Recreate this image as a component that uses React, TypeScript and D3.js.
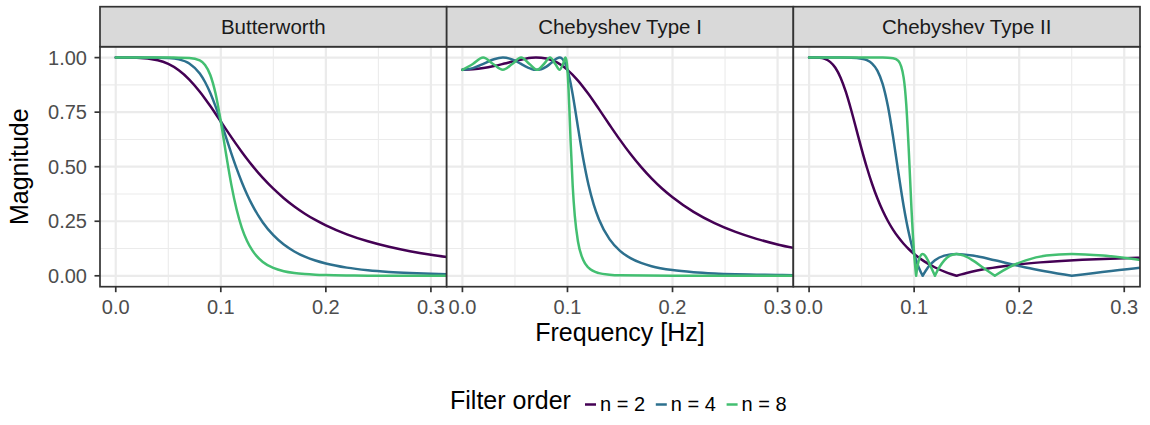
import React from "react";
import * as d3 from "d3";

// ---------------- data ----------------
const facets = ["Butterworth", "Chebyshev Type I", "Chebyshev Type II"];
const seriesLabels = ["n = 2", "n = 4", "n = 8"];
const xTicks = [0, 0.1, 0.2, 0.3];
const xMinor = [0.05, 0.15, 0.25];
const yTicks = [0, 0.25, 0.5, 0.75, 1];
const yMinor = [0.125, 0.375, 0.625, 0.875];

// Butterworth
const butterFreq = [0, 0.02, 0.04, 0.05, 0.06, 0.07, 0.08, 0.085, 0.09, 0.095, 0.1, 0.105, 0.11, 0.115, 0.12, 0.125, 0.13, 0.14, 0.15, 0.16, 0.17, 0.18, 0.19, 0.2, 0.22, 0.24, 0.26, 0.28, 0.3, 0.32];
const butterN2 = [1, 0.9992, 0.9878, 0.9708, 0.942, 0.8995, 0.8437, 0.8119, 0.778, 0.7429, 0.7071, 0.6712, 0.6357, 0.6011, 0.5676, 0.5354, 0.5049, 0.4488, 0.3991, 0.3556, 0.3176, 0.2846, 0.2559, 0.2311, 0.19, 0.158, 0.1328, 0.1126, 0.0962, 0.0827];
const butterN4 = [1, 1, 0.9997, 0.9981, 0.9921, 0.9733, 0.927, 0.8882, 0.8376, 0.7763, 0.7071, 0.634, 0.5613, 0.4923, 0.4291, 0.3729, 0.3236, 0.2444, 0.1861, 0.1432, 0.1115, 0.0878, 0.0699, 0.0564, 0.0374, 0.0256, 0.0179, 0.0128, 0.0093, 0.0069];
const butterN8 = [1, 1, 1, 1, 0.9999, 0.9984, 0.9869, 0.966, 0.9203, 0.8351, 0.7071, 0.558, 0.4178, 0.3047, 0.22, 0.1595, 0.1162, 0.0634, 0.0359, 0.0209, 0.0126, 0.0078, 0.0049, 0.0032, 0.0014, 0.0006, 0.0003, 0.0002, 0.0001, 0];

// Chebyshev Type I
const cheb1N2Freq = [0, 0.01, 0.02, 0.03, 0.04, 0.05, 0.06, 0.07, 0.08, 0.09, 0.1, 0.11, 0.12, 0.13, 0.14, 0.15, 0.16, 0.17, 0.18, 0.19, 0.2, 0.22, 0.24, 0.26, 0.28, 0.3, 0.32];
const cheb1N2 = [0.9439, 0.9461, 0.9519, 0.9611, 0.9726, 0.9847, 0.995, 1, 0.9955, 0.9777, 0.9439, 0.8947, 0.8329, 0.7637, 0.6924, 0.6229, 0.558, 0.4991, 0.4465, 0.4001, 0.3601, 0.2932, 0.2416, 0.2013, 0.1694, 0.1438, 0.123];
const cheb1N4Freq = [0, 0.01, 0.02, 0.03, 0.0385, 0.045, 0.05, 0.055, 0.06, 0.065, 0.07, 0.075, 0.08, 0.085, 0.09, 0.0925, 0.0975, 0.1, 0.1025, 0.105, 0.1075, 0.11, 0.115, 0.12, 0.125, 0.13, 0.14, 0.15, 0.16, 0.17, 0.18, 0.2, 0.22, 0.24, 0.26, 0.28, 0.3, 0.32];
const cheb1N4 = [0.9439, 0.9518, 0.9716, 0.9925, 1, 0.9953, 0.9858, 0.9732, 0.96, 0.9494, 0.944, 0.9468, 0.9585, 0.9776, 0.9964, 1, 0.9774, 0.9439, 0.894, 0.8302, 0.7571, 0.6804, 0.5362, 0.4173, 0.3266, 0.2582, 0.168, 0.1144, 0.081, 0.059, 0.0441, 0.0262, 0.0165, 0.0109, 0.0074, 0.0052, 0.0037, 0.0027];
const cheb1N8Freq = [0, 0.0099, 0.0197, 0.0292, 0.0385, 0.0474, 0.0559, 0.0638, 0.071, 0.0776, 0.0834, 0.0884, 0.0925, 0.0958, 0.0981, 0.0995, 0.1, 0.101, 0.102, 0.103, 0.105, 0.107, 0.11, 0.115, 0.12, 0.13, 0.14, 0.15, 0.2, 0.32];
const cheb1N8 = [0.9439, 0.9708, 1, 0.9708, 0.9439, 0.9708, 1, 0.9708, 0.9439, 0.9708, 1, 0.9708, 0.9439, 0.9708, 1, 0.9708, 0.9439, 0.8564, 0.7399, 0.6156, 0.4091, 0.273, 0.1572, 0.0721, 0.0372, 0.0121, 0.0051, 0.0023, 0.0001, 0];

// Chebyshev Type II
const cheb2N2Freq = [0, 0.01, 0.015, 0.02, 0.025, 0.03, 0.035, 0.04, 0.045, 0.05, 0.055, 0.06, 0.065, 0.07, 0.075, 0.08, 0.085, 0.09, 0.095, 0.1, 0.11, 0.12, 0.13, 0.135, 0.1403, 0.145, 0.15, 0.16, 0.17, 0.18, 0.2, 0.22, 0.24, 0.26, 0.28, 0.3, 0.32];
const cheb2N2 = [1, 0.9988, 0.9939, 0.9806, 0.9536, 0.908, 0.8426, 0.7611, 0.6711, 0.5808, 0.4963, 0.4207, 0.3551, 0.2989, 0.2511, 0.2106, 0.1762, 0.1468, 0.1217, 0.1, 0.0649, 0.038, 0.017, 0.0082, 0, 0.0066, 0.013, 0.024, 0.0332, 0.0408, 0.0527, 0.0615, 0.0682, 0.0734, 0.0775, 0.0808, 0.0836];
const cheb2N4Freq = [0, 0.03, 0.04, 0.05, 0.055, 0.06, 0.065, 0.07, 0.075, 0.08, 0.085, 0.09, 0.095, 0.0975, 0.1, 0.1005, 0.1019, 0.1044, 0.1081, 0.1131, 0.1198, 0.1287, 0.1403, 0.1558, 0.1768, 0.2063, 0.2501, 0.318, 0.434];
const cheb2N4 = [1, 1, 0.9993, 0.9951, 0.988, 0.9726, 0.9406, 0.8798, 0.7781, 0.6356, 0.4732, 0.3201, 0.1947, 0.1436, 0.1, 0.0925, 0.0709, 0.0384, 0, 0.0384, 0.0709, 0.0925, 0.1, 0.0925, 0.0709, 0.0384, 0, 0.0384, 0.0709];
const cheb2N8Freq = [0, 0.06, 0.07, 0.075, 0.08, 0.085, 0.09, 0.0925, 0.095, 0.0975, 0.0988, 0.1, 0.1001, 0.1005, 0.1011, 0.1019, 0.103, 0.1044, 0.1061, 0.1081, 0.1104, 0.1131, 0.1162, 0.1198, 0.1239, 0.1287, 0.1341, 0.1403, 0.1474, 0.1558, 0.1654, 0.1768, 0.1902, 0.2063, 0.2259, 0.2501, 0.2798, 0.318, 0.3678];
const cheb2N8 = [1, 1, 1, 0.9995, 0.9972, 0.9847, 0.9083, 0.7846, 0.5642, 0.3035, 0.1874, 0.1, 0.0925, 0.0709, 0.0384, 0, 0.0384, 0.0709, 0.0925, 0.1, 0.0925, 0.0709, 0.0384, 0, 0.0384, 0.0709, 0.0925, 0.1, 0.0925, 0.0709, 0.0384, 0, 0.0384, 0.0709, 0.0925, 0.1, 0.0925, 0.0709, 0.0384];

const panels = [
  [
    { freq: butterFreq, mag: butterN2 },
    { freq: butterFreq, mag: butterN4 },
    { freq: butterFreq, mag: butterN8 },
  ],
  [
    { freq: cheb1N2Freq, mag: cheb1N2 },
    { freq: cheb1N4Freq, mag: cheb1N4 },
    { freq: cheb1N8Freq, mag: cheb1N8 },
  ],
  [
    { freq: cheb2N2Freq, mag: cheb2N2 },
    { freq: cheb2N4Freq, mag: cheb2N4 },
    { freq: cheb2N8Freq, mag: cheb2N8 },
  ],
];

// ---------------- styling / layout ----------------
const COLORS = ["#440154", "#2D708E", "#43BF71"];
const FONT = "'Liberation Sans', Arial, Helvetica, sans-serif";
const W = 1150;
const H = 425;
const plotLeft = 100;
const plotRight = 1140;
const stripTop = 6.7;
const stripBottom = 46.7;
const panelBottom = 286.7;
const pw = (plotRight - plotLeft) / 3;

function splitAtZeros(freq: number[], mag: number[]) {
  const segs: [number, number][][] = [];
  let cur: [number, number][] = [];
  freq.forEach((f, i) => {
    const p: [number, number] = [f, mag[i]];
    cur.push(p);
    if (mag[i] === 0 && cur.length > 1) {
      segs.push(cur);
      cur = [p];
    }
  });
  if (cur.length > 1) segs.push(cur);
  return segs;
}

export default function App() {
  const ys = d3.scaleLinear().domain([-0.05, 1.05]).range([panelBottom, stripBottom]);
  const fmtX = d3.format(".1f");
  const fmtY = d3.format(".2f");

  return (
    <svg
      width={W}
      height={H}
      viewBox={`0 0 ${W} ${H}`}
      style={{ position: "absolute", left: 0, top: 0, display: "block", background: "#fff" }}
      fontFamily={FONT}
    >
      <defs>
        {facets.map((_, i) => (
          <clipPath id={`clip${i}`} key={i}>
            <rect x={plotLeft + i * pw} y={stripBottom} width={pw} height={panelBottom - stripBottom} />
          </clipPath>
        ))}
      </defs>
      <rect x={0} y={0} width={W} height={H} fill="#fff" />

      {facets.map((name, i) => {
        const x0 = plotLeft + i * pw;
        const xs = d3.scaleLinear().domain([-0.015, 0.315]).range([x0, x0 + pw]);
        const line = d3
          .line<[number, number]>()
          .x((d) => xs(d[0]))
          .y((d) => ys(d[1]))
          .curve(d3.curveMonotoneX);
        return (
          <g key={name}>
            <rect x={x0} y={stripBottom} width={pw} height={panelBottom - stripBottom} fill="#fff" />
            <g clipPath={`url(#clip${i})`}>
              {xMinor.map((v) => (
                <line key={"xm" + v} x1={xs(v)} x2={xs(v)} y1={stripBottom} y2={panelBottom} stroke="#EBEBEB" strokeWidth={1.1} />
              ))}
              {yMinor.map((v) => (
                <line key={"ym" + v} x1={x0} x2={x0 + pw} y1={ys(v)} y2={ys(v)} stroke="#EBEBEB" strokeWidth={1.1} />
              ))}
              {xTicks.map((v) => (
                <line key={"xM" + v} x1={xs(v)} x2={xs(v)} y1={stripBottom} y2={panelBottom} stroke="#EBEBEB" strokeWidth={2.2} />
              ))}
              {yTicks.map((v) => (
                <line key={"yM" + v} x1={x0} x2={x0 + pw} y1={ys(v)} y2={ys(v)} stroke="#EBEBEB" strokeWidth={2.2} />
              ))}
              {panels[i].map((s, k) => (
                <path
                  key={k}
                  d={splitAtZeros(s.freq, s.mag).map((seg) => line(seg)).join("")}
                  fill="none"
                  stroke={COLORS[k]}
                  strokeWidth={2.5}
                  strokeLinejoin="round"
                  strokeLinecap="round"
                />
              ))}
            </g>
            <rect x={x0} y={stripBottom} width={pw} height={panelBottom - stripBottom} fill="none" stroke="#333333" strokeWidth={1.7} />
            {/* strip */}
            <rect x={x0} y={stripTop} width={pw} height={stripBottom - stripTop} fill="#D9D9D9" stroke="#333333" strokeWidth={1.7} />
            <text x={x0 + pw / 2} y={34} textAnchor="middle" fontSize={20.5} fill="#1A1A1A">
              {name}
            </text>
            {/* x axis */}
            {xTicks.map((v) => (
              <g key={"xt" + v}>
                <line x1={xs(v)} x2={xs(v)} y1={panelBottom} y2={panelBottom + 5.5} stroke="#333333" strokeWidth={1.7} />
                <text x={xs(v)} y={314} textAnchor="middle" fontSize={20} fill="#4D4D4D">
                  {fmtX(v)}
                </text>
              </g>
            ))}
          </g>
        );
      })}

      {/* y axis */}
      {yTicks.map((v) => (
        <g key={"yt" + v}>
          <line x1={plotLeft - 5.5} x2={plotLeft} y1={ys(v)} y2={ys(v)} stroke="#333333" strokeWidth={1.7} />
          <text x={87} y={ys(v)} dy="0.36em" textAnchor="end" fontSize={20} fill="#4D4D4D">
            {fmtY(v)}
          </text>
        </g>
      ))}

      {/* axis titles */}
      <text x={(plotLeft + plotRight) / 2} y={341} textAnchor="middle" fontSize={25} fill="#000">
        Frequency [Hz]
      </text>
      <text
        transform={`translate(28, ${(stripBottom + panelBottom) / 2}) rotate(-90)`}
        textAnchor="middle"
        fontSize={25}
        fill="#000"
      >
        Magnitude
      </text>

      {/* legend */}
      <text x={450} y={409} fontSize={25} fill="#000">
        Filter order
      </text>
      {seriesLabels.map((lab, k) => {
        const kx = 585 + k * 70.8;
        return (
          <g key={lab}>
            <line x1={kx} x2={kx + 11} y1={404.5} y2={404.5} stroke={COLORS[k]} strokeWidth={2.5} />
            <text x={kx + 15} y={410.5} fontSize={20} fill="#000">
              {lab}
            </text>
          </g>
        );
      })}
    </svg>
  );
}
